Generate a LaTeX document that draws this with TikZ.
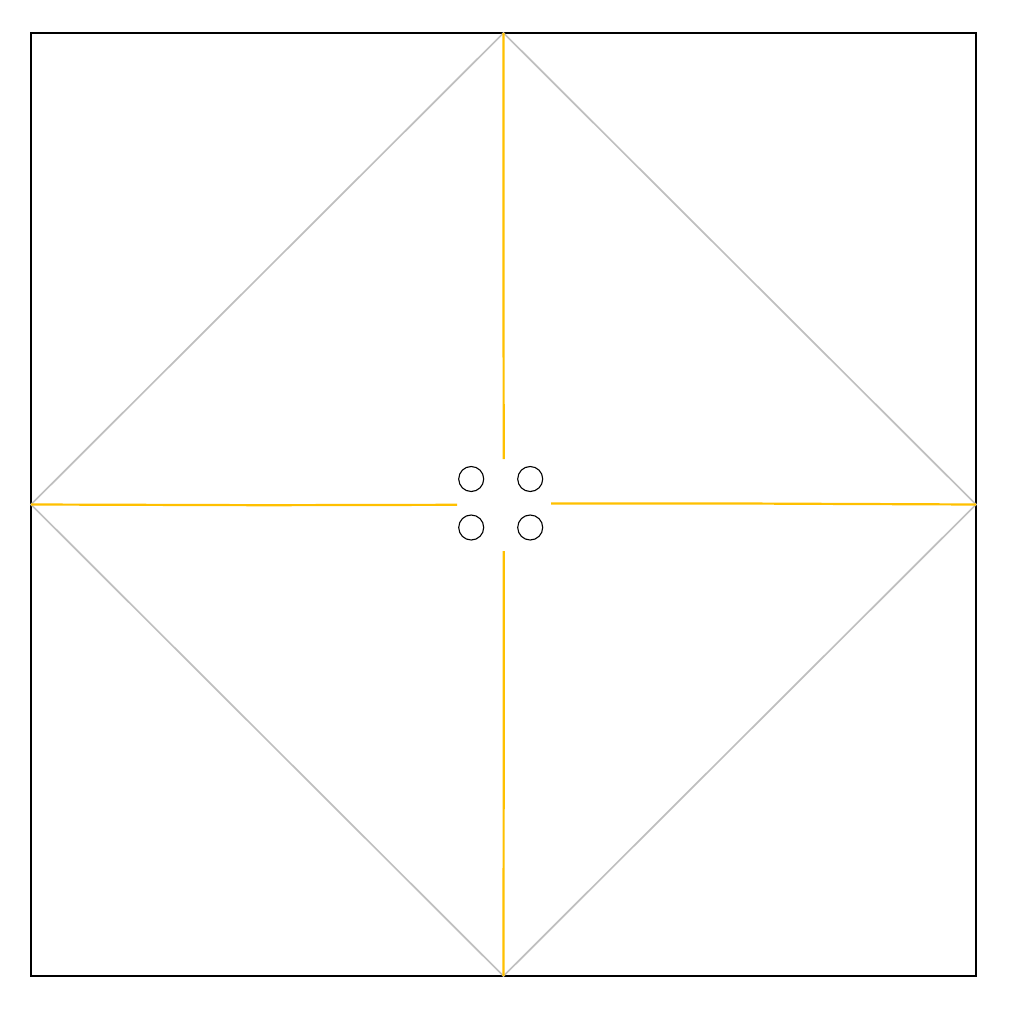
\documentclass[tikz,border=0pt]{standalone}
\definecolor{gold}{HTML}{FFC000}
\definecolor{lgrey}{HTML}{BFBFBF}
\begin{document}
\begin{tikzpicture}[x=1pt,y=-1pt,
  frame/.style={draw=black,line width=1.8pt},
  diag/.style={draw=lgrey,line width=1.7pt},
  axis/.style={draw=gold,line width=2.2pt},
  hole/.style={draw=black,line width=1.1pt}]
\useasboundingbox (0,0) rectangle (1016,1011);
\coordinate (tl) at (31,33);
\coordinate (br) at (976,976);
\coordinate (T) at (503.5,33);
\coordinate (R) at (976,504.5);
\coordinate (B) at (503.5,976);
\coordinate (L) at (31,504.5);
\draw[frame] (tl) rectangle (br);
\draw[diag] (T) -- (R) -- (B) -- (L) -- cycle;
\coordinate (Te) at (503.7,459);
\coordinate (Be) at (503.7,551);
\coordinate (Le) at (457,504.8);
\coordinate (Re) at (551,503.5);
\draw[axis] (T) -- (503.5,272) -- (Te);
\draw[axis] (Be) -- (503.7,740) -- (B);
\draw[axis] (L) -- (265,505.2) -- (Le);
\draw[axis] (Re) -- (740,503.5) -- (R);
\draw[hole] (471.2,479) circle (12.5);
\draw[hole] (530.2,479) circle (12.5);
\draw[hole] (471.2,527.5) circle (12.5);
\draw[hole] (530.2,527.5) circle (12.5);
\end{tikzpicture}
\end{document}
